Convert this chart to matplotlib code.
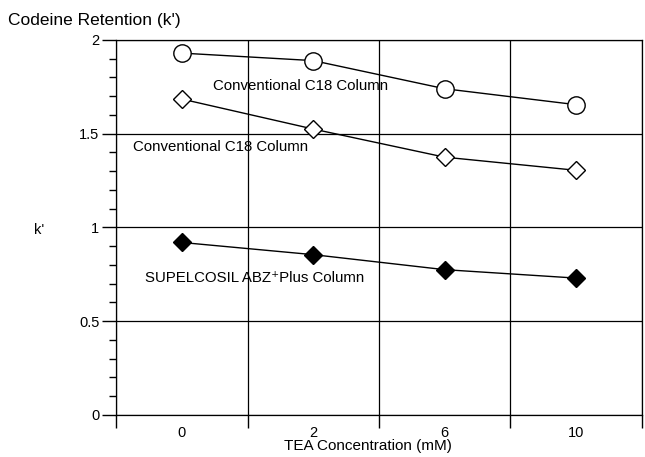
import numpy as np
import matplotlib.pyplot as plt
from matplotlib.ticker import MultipleLocator, FixedLocator

plt.rcParams['font.family'] = ['Liberation Sans', 'DejaVu Sans']

# datos
tea = ['0', '2', '6', '10']
k_c18_a = [1.93, 1.89, 1.74, 1.655]
k_c18_b = [1.685, 1.525, 1.375, 1.305]
k_abz = [0.92, 0.855, 0.775, 0.73]

x = np.arange(len(tea))

fig = plt.figure(figsize=(6.45, 4.57), dpi=100)
ax = fig.add_axes([0.180, 0.092, 0.815, 0.8205])

ax.plot(x, k_c18_a, '-', color='black', lw=1, marker='o', ms=12.5,
        mfc='white', mec='black', mew=1, zorder=3)
ax.plot(x, k_c18_b, '-', color='black', lw=1, marker='D', ms=9,
        mfc='white', mec='black', mew=1, zorder=3)
ax.plot(x, k_abz, '-', color='black', lw=1, marker='D', ms=9,
        mfc='black', mec='black', mew=1, zorder=3)

ax.set_xlim(-0.5, 3.5)
ax.set_ylim(0, 2)

# ejes
ax.set_xticks(x)
ax.set_xticklabels(tea, fontsize=10.5)
ax.xaxis.set_minor_locator(FixedLocator([-0.5, 0.5, 1.5, 2.5, 3.5]))
ax.tick_params(axis='x', which='major', length=0, pad=8)
ax.tick_params(axis='x', which='minor', length=9, width=1, direction='out')
ax.set_yticks([0, 0.5, 1, 1.5, 2])
ax.set_yticklabels(['0', '0.5', '1', '1.5', '2'], fontsize=10.5)
ax.yaxis.set_minor_locator(MultipleLocator(0.1))
ax.tick_params(axis='y', which='major', length=10, width=1, pad=2)
ax.tick_params(axis='y', which='minor', length=5, width=1)

ax.grid(True, axis='y', which='major', color='black', lw=0.9)
ax.grid(True, axis='x', which='minor', color='black', lw=0.9)
for s in ax.spines.values():
    s.set_linewidth(0.9)

# textos
ax.text(0.24, 1.755, 'Conventional C18 Column', fontsize=10.8, va='center')
ax.text(-0.37, 1.43, 'Conventional C18 Column', fontsize=10.8, va='center')
ax.text(-0.28, 0.73, 'SUPELCOSIL ABZ\u207aPlus Column', fontsize=10.8, va='center')

fig.text(0.012, 0.955, "Codeine Retention (k')", fontsize=12.5, va='center')
fig.text(0.053, 0.497, "k'", fontsize=10.5, va='center')
fig.text(0.571, 0.025, 'TEA Concentration (mM)', fontsize=11, ha='center', va='center')

plt.savefig('out.png')
